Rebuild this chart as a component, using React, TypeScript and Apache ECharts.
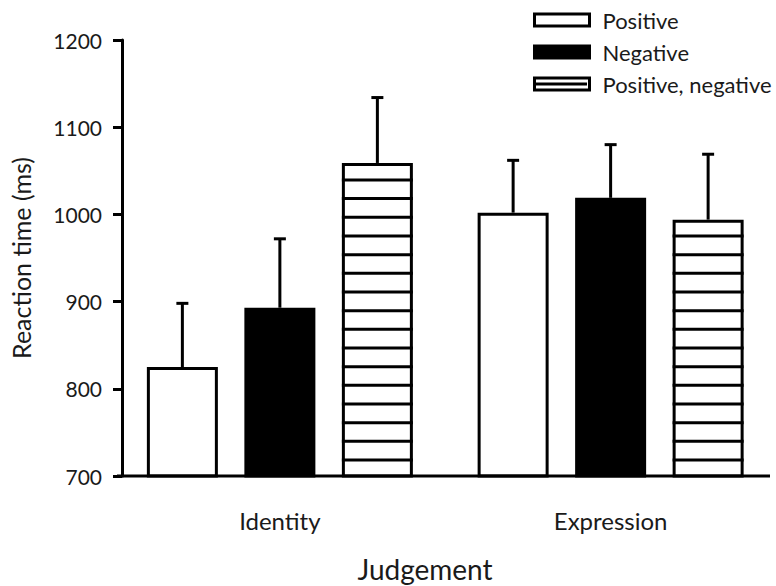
import React, { useEffect, useRef } from "react";
import * as echarts from "echarts";

const categories = ["Identity", "Expression"];
const seriesNames = ["Positive", "Negative", "Positive, negative"];
const positiveMeans = [825, 1002];
const negativeMeans = [893, 1019];
const mixedMeans = [1059, 994];
const positiveErr = [73, 60];
const negativeErr = [79, 61];
const mixedErr = [75, 75];
const yTicks = { min: 700, max: 1200, interval: 100 };

const FONT = "Lato";
const TEXT = "#1a1a1a";
const BAR_W = 71;
const STEP = 97.5;
const STRIPE_GAP = 18.67;
const STRIPE_FIRST = 16;

export default function App() {
  const ref = useRef<HTMLDivElement>(null);
  useEffect(() => {
    if (!ref.current) return;
    const chart = echarts.init(ref.current, undefined, { renderer: "svg" });
    const means = [positiveMeans, negativeMeans, mixedMeans];
    const errs = [positiveErr, negativeErr, mixedErr];
    const styles = [
      { color: "#fff", borderColor: "#000", borderWidth: 3 },
      { color: "#000", borderColor: "#000", borderWidth: 3 },
      { color: "#fff", borderColor: "#000", borderWidth: 3 },
    ];
    const barSeries = seriesNames.map((name, i) => ({
      name,
      type: "bar",
      barWidth: BAR_W,
      barGap: ((STEP - BAR_W) / BAR_W) * 100 + "%",
      data: means[i],
      itemStyle: styles[i],
      z: 3,
    }));
    const stripeSeries = {
      name: "stripes",
      type: "custom",
      z: 4,
      data: categories.map((_, c) => [c, mixedMeans[c]]),
      renderItem: (params: any, api: any) => {
        const c = api.value(0);
        const v = api.value(1);
        const top = api.coord([c, v]);
        const bottom = api.coord([c, yTicks.min]);
        const cx = top[0] + STEP;
        const children: any[] = [];
        for (let y = bottom[1] - STRIPE_FIRST; y > top[1] + 8; y -= STRIPE_GAP) {
          children.push({
            type: "line",
            shape: { x1: cx - BAR_W / 2, y1: y, x2: cx + BAR_W / 2, y2: y },
            style: { stroke: "#000", lineWidth: 3 },
          });
        }
        return { type: "group", children };
      },
    };
    const errSeries = seriesNames.map((name, i) => ({
      name: name + " err",
      type: "custom",
      z: 2,
      data: categories.map((_, c) => [c, means[i][c], errs[i][c]]),
      renderItem: (params: any, api: any) => {
        const c = api.value(0);
        const v = api.value(1);
        const e = api.value(2);
        const p0 = api.coord([c, v]);
        const p1 = api.coord([c, v + e]);
        const x = p0[0] + (i - 1) * STEP;
        return {
          type: "group",
          children: [
            {
              type: "line",
              shape: { x1: x, y1: p0[1], x2: x, y2: p1[1] },
              style: { stroke: "#000", lineWidth: 3 },
            },
            {
              type: "line",
              shape: { x1: x - 6, y1: p1[1], x2: x + 6, y2: p1[1] },
              style: { stroke: "#000", lineWidth: 3 },
            },
          ],
        };
      },
    }));
    chart.setOption({
      animation: false,
      grid: { left: 109.5, top: 40, width: 667, height: 436 },
      legend: {
        data: seriesNames,
        orient: "vertical",
        left: 533,
        top: 9,
        padding: 0,
        icon: "rect",
        itemWidth: 55,
        itemHeight: 12,
        itemGap: 10,
        selectedMode: false,
        itemStyle: { borderWidth: 3 },
        textStyle: {
          fontFamily: FONT,
          fontSize: 22,
          lineHeight: 22,
          color: TEXT,
          padding: [0, 0, 0, 8],
        },
      },
      xAxis: {
        type: "category",
        data: categories,
        axisLine: { show: false },
        axisTick: { show: false },
        axisLabel: { fontFamily: FONT, fontSize: 24, color: TEXT, margin: 32 },
      },
      yAxis: {
        type: "value",
        min: yTicks.min,
        max: yTicks.max,
        interval: yTicks.interval,
        offset: -7.5,
        splitLine: { show: false },
        axisLine: { show: true, lineStyle: { color: "#000", width: 3 } },
        axisTick: { show: true, length: 9, lineStyle: { color: "#000", width: 3 } },
        axisLabel: {
          fontFamily: FONT,
          fontSize: 21,
          color: TEXT,
          margin: 20,
          formatter: (v: number) => String(v),
        },
        name: "Reaction time (ms)",
        nameLocation: "middle",
        nameGap: 89,
        nameTextStyle: { fontFamily: FONT, fontSize: 25, color: TEXT },
      },
      graphic: [
        {
          type: "line",
          shape: { x1: 117, y1: 476, x2: 770, y2: 476 },
          style: { stroke: "#000", lineWidth: 3 },
          z: 10,
        },
        {
          type: "line",
          shape: { x1: 534, y1: 84, x2: 587, y2: 84 },
          style: { stroke: "#000", lineWidth: 3 },
          z: 10,
        },
        {
          type: "text",
          x: 425,
          y: 569,
          style: {
            text: "Judgement",
            align: "center",
            verticalAlign: "middle",
            fontFamily: FONT,
            fontSize: 28,
            fill: TEXT,
          },
        },
      ],
      series: [...barSeries, stripeSeries, ...errSeries],
    });
    return () => chart.dispose();
  }, []);
  return (
    <div
      ref={ref}
      style={{ position: "fixed", left: 0, top: 0, width: 776, height: 586, background: "#fff" }}
    />
  );
}
